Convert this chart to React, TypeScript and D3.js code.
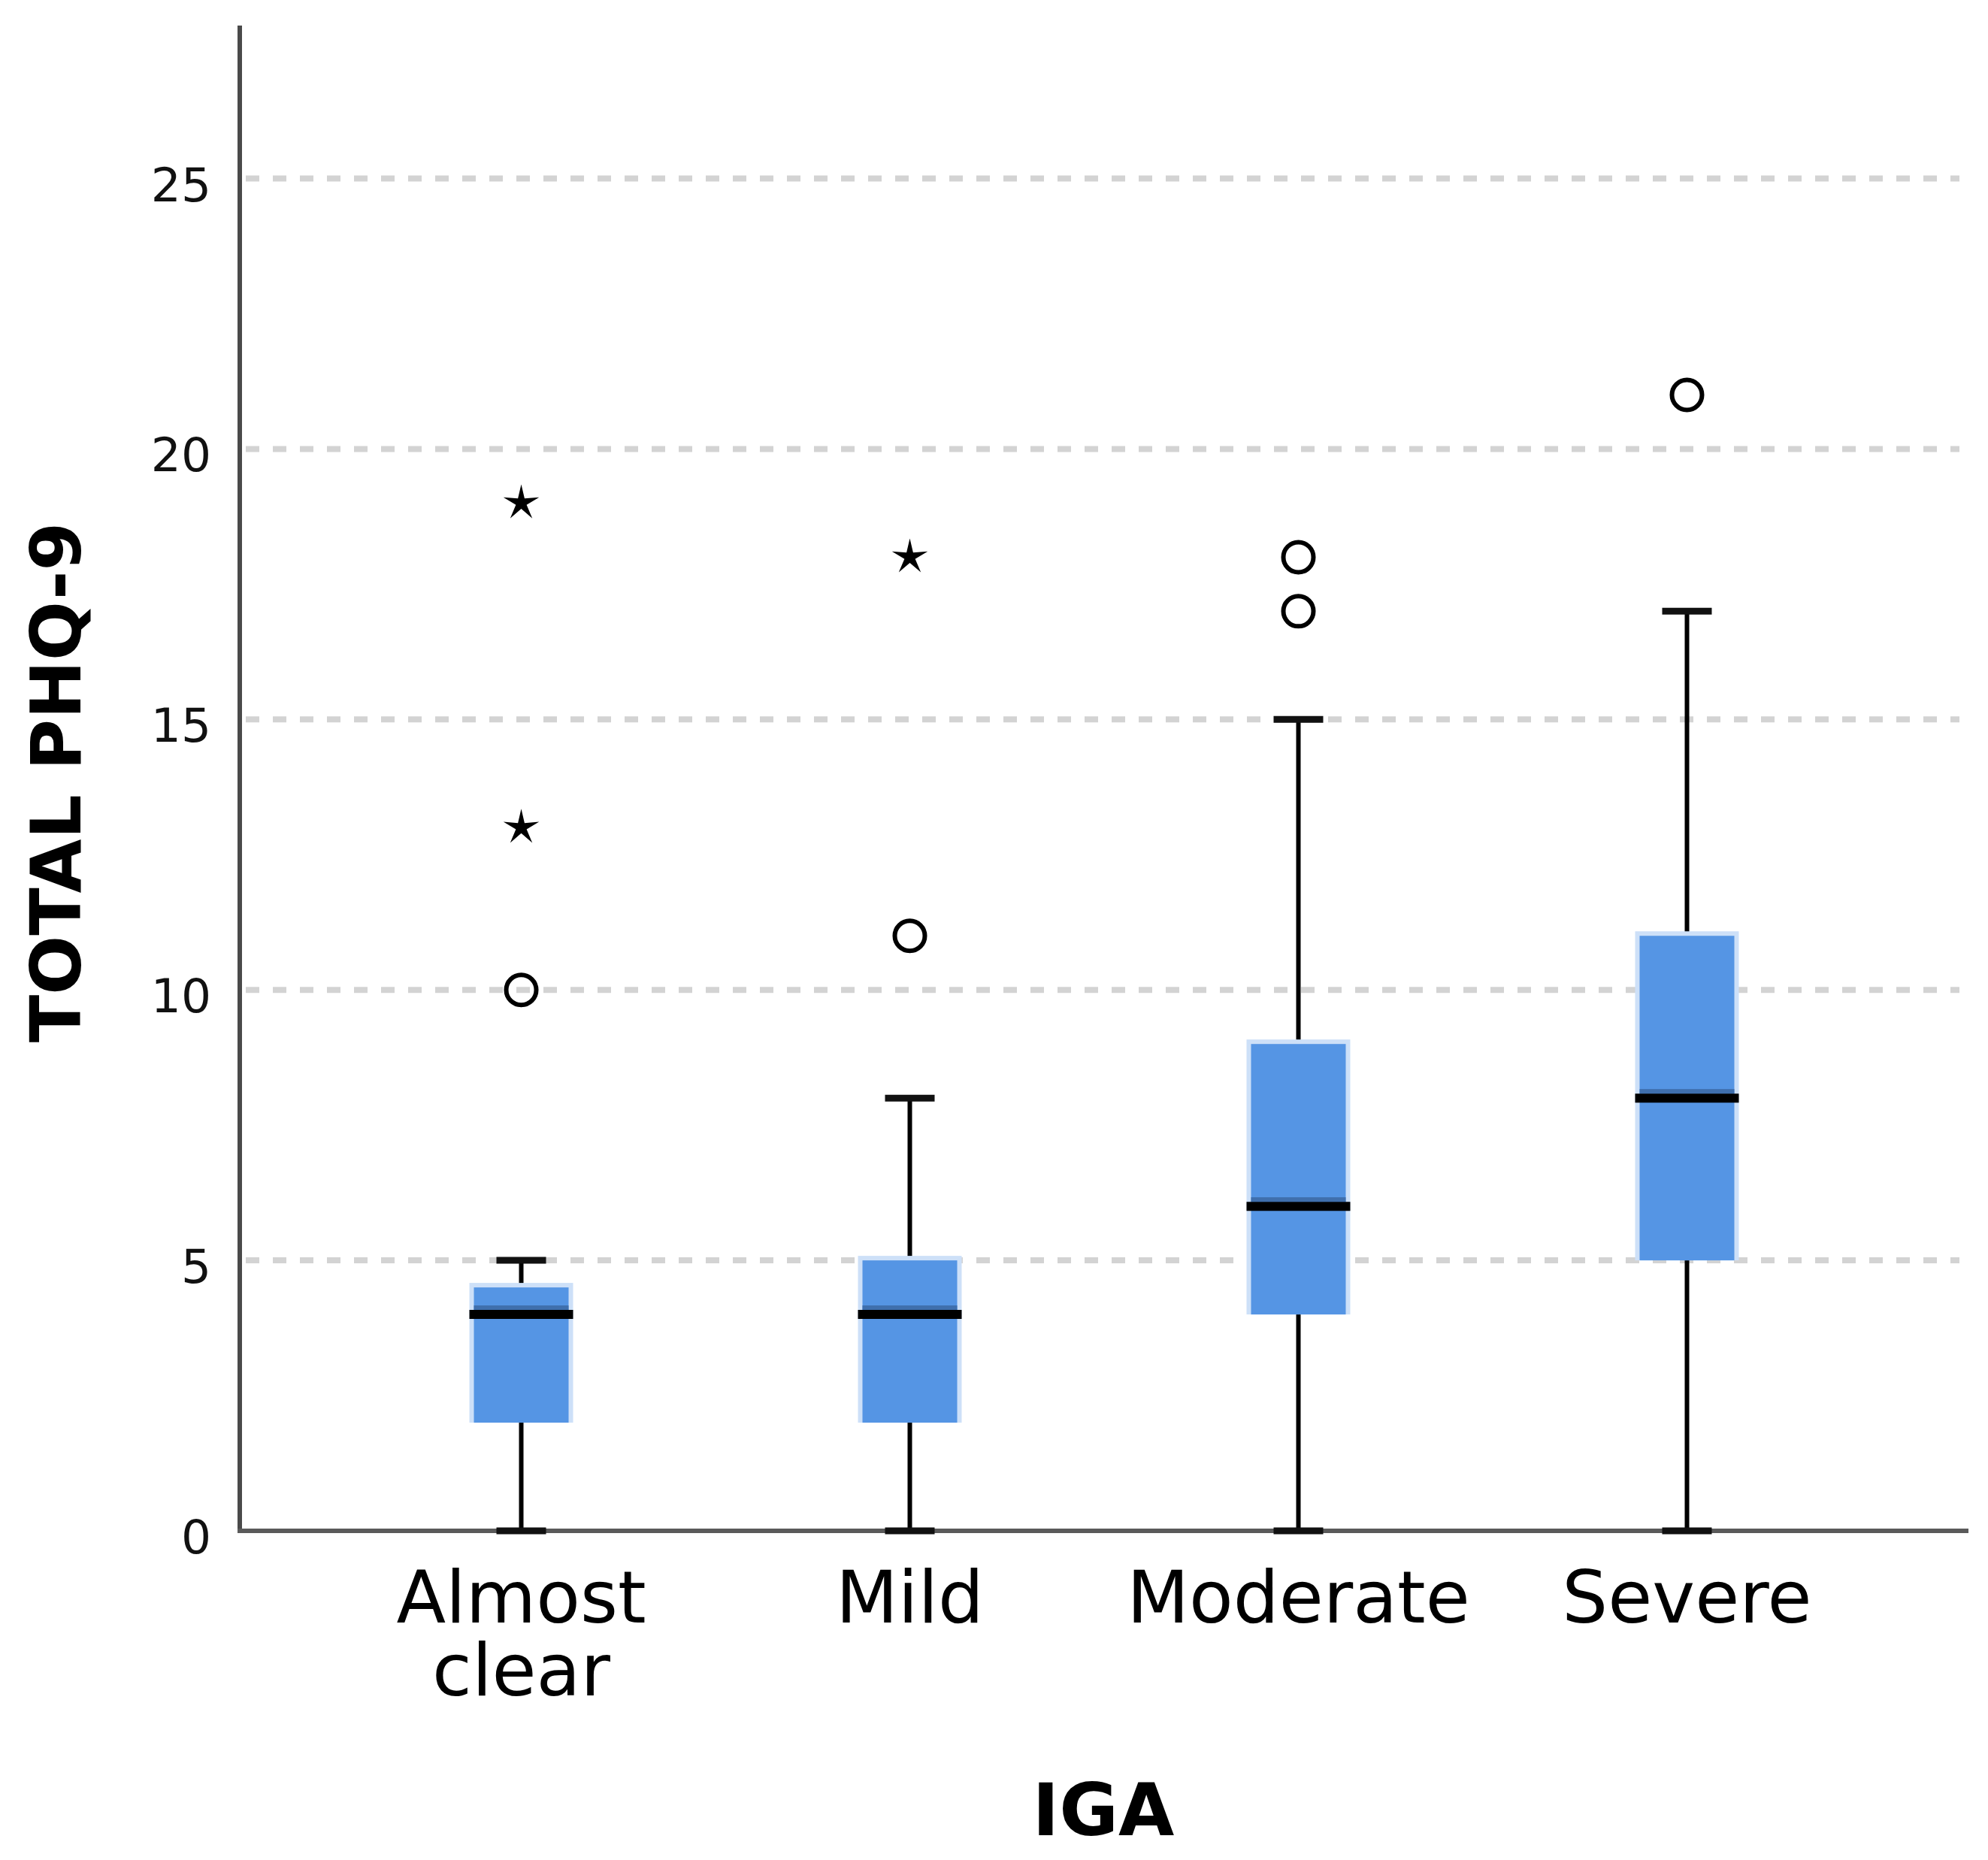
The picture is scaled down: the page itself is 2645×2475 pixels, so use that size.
import React, { useRef, useEffect } from "react";
import * as d3 from "d3";

const CATEGORIES = ["Almost clear", "Mild", "Moderate", "Severe"];
const CATEGORY_LINES = [["Almost", "clear"], ["Mild"], ["Moderate"], ["Severe"]];
const WHISKER_LOW = [0, 0, 0, 0];
const Q1 = [2, 2, 4, 5];
const MEDIAN = [4, 4, 6, 8];
const Q3 = [4.5, 5, 9, 11];
const WHISKER_HIGH = [5, 8, 15, 17];
// circles (mild outliers) and stars (extreme outliers)
const OUTLIERS = [[10], [11], [17, 18], [21]];
const EXTREMES = [[13, 19], [18], [], []];
const Y_TICKS = [0, 5, 10, 15, 20, 25];
const Y_MAX = 27.8;

const W = 2645;
const H = 2475;
const M = { top: 36, left: 319, right: 2619, bottom: 2037 };

const BLUE = "#5595e4";
const FONT = "'DejaVu Sans', sans-serif";

interface BoxRow {
  cat: string;
  lo: number;
  q1: number;
  med: number;
  q3: number;
  hi: number;
}

// five pointed star, outer radius R, thin arms
function starPath(R: number, ratio = 0.3): string {
  const pts: [number, number][] = [];
  for (let i = 0; i < 10; i++) {
    const r = i % 2 === 0 ? R : R * ratio;
    const a = (Math.PI / 5) * i - Math.PI / 2;
    pts.push([Math.cos(a) * r, Math.sin(a) * r]);
  }
  return d3.line()(pts)! + "Z";
}

const App: React.FC = () => {
  const svgRef = useRef<SVGSVGElement>(null);

  useEffect(() => {
    const svgEl = svgRef.current;
    if (!svgEl) return;
    const svg = d3.select(svgEl);
    svg.selectAll("*").remove();

    const rows: BoxRow[] = CATEGORIES.map((cat, i) => ({
      cat, lo: WHISKER_LOW[i], q1: Q1[i], med: MEDIAN[i], q3: Q3[i], hi: WHISKER_HIGH[i],
    }));

    const x = d3.scalePoint<string>()
      .domain(CATEGORIES)
      .range([M.left, M.right])
      .padding(0.7244);

    const y = d3.scaleLinear()
      .domain([0, Y_MAX])
      .range([M.bottom, M.top]);

    const boxHalf = 63;
    const capHalf = 33;

    // Gridlines
    svg.append("g")
      .selectAll("line")
      .data(Y_TICKS.filter(t => t > 0))
      .join("line")
      .attr("x1", M.left + 4).attr("x2", M.right - 12)
      .attr("y1", d => y(d)).attr("y2", d => y(d))
      .attr("stroke", "#d3d3d3")
      .attr("stroke-width", 8)
      .attr("stroke-dasharray", "18 18")
      .attr("stroke-dashoffset", -4);

    // Axis lines (under the marks, so the zero caps sit on top)
    svg.append("line")
      .attr("x1", M.left).attr("x2", M.left)
      .attr("y1", M.top - 2).attr("y2", M.bottom + 3)
      .attr("stroke", "#4a4a4a").attr("stroke-width", 6);
    svg.append("line")
      .attr("x1", M.left - 3).attr("x2", M.right)
      .attr("y1", M.bottom).attr("y2", M.bottom)
      .attr("stroke", "#5a5a5a").attr("stroke-width", 6);

    const g = svg.append("g");

    // Whiskers
    g.selectAll(".whisker")
      .data(rows)
      .join("line")
      .attr("class", "whisker")
      .attr("x1", d => x(d.cat)!).attr("x2", d => x(d.cat)!)
      .attr("y1", d => y(d.lo)).attr("y2", d => y(d.hi))
      .attr("stroke", "#000")
      .attr("stroke-width", 6);

    // Caps
    rows.forEach(d => {
      [d.lo, d.hi].forEach(v => {
        g.append("line")
          .attr("x1", x(d.cat)! - capHalf).attr("x2", x(d.cat)! + capHalf)
          .attr("y1", y(v)).attr("y2", y(v))
          .attr("stroke", "#111")
          .attr("stroke-width", 9);
      });
    });

    // Boxes: light halo then solid fill
    g.selectAll(".halo")
      .data(rows)
      .join("rect")
      .attr("class", "halo")
      .attr("x", d => x(d.cat)! - boxHalf - 6)
      .attr("width", (boxHalf + 6) * 2)
      .attr("y", d => y(d.q3) - 6)
      .attr("height", d => y(d.q1) - y(d.q3) + 6)
      .attr("fill", "#cde0f8");

    g.selectAll(".box")
      .data(rows)
      .join("rect")
      .attr("class", "box")
      .attr("x", d => x(d.cat)! - boxHalf)
      .attr("width", boxHalf * 2)
      .attr("y", d => y(d.q3))
      .attr("height", d => y(d.q1) - y(d.q3))
      .attr("fill", BLUE);

    // soft shade just above the median
    g.selectAll(".shade")
      .data(rows)
      .join("rect")
      .attr("class", "shade")
      .attr("x", d => x(d.cat)! - boxHalf)
      .attr("width", boxHalf * 2)
      .attr("y", d => y(d.med) - 12)
      .attr("height", 6)
      .attr("fill", "#3f6fad");

    g.selectAll(".median")
      .data(rows)
      .join("line")
      .attr("class", "median")
      .attr("x1", d => x(d.cat)! - boxHalf - 6).attr("x2", d => x(d.cat)! + boxHalf + 6)
      .attr("y1", d => y(d.med)).attr("y2", d => y(d.med))
      .attr("stroke", "#000")
      .attr("stroke-width", 12);

    // Outlier circles
    const circles = CATEGORIES.flatMap((cat, i) => OUTLIERS[i].map(v => ({ cat, v })));
    g.selectAll(".out")
      .data(circles)
      .join("circle")
      .attr("class", "out")
      .attr("cx", d => x(d.cat)!)
      .attr("cy", d => y(d.v))
      .attr("r", 20)
      .attr("fill", "none")
      .attr("stroke", "#000")
      .attr("stroke-width", 6);

    // Extreme stars
    const stars = CATEGORIES.flatMap((cat, i) => EXTREMES[i].map(v => ({ cat, v })));
    const sp = starPath(25);
    g.selectAll(".ext")
      .data(stars)
      .join("path")
      .attr("class", "ext")
      .attr("d", sp)
      .attr("transform", d => `translate(${x(d.cat)},${y(d.v)})`)
      .attr("fill", "#000");

    // Y tick labels
    svg.append("g")
      .selectAll("text")
      .data(Y_TICKS)
      .join("text")
      .attr("x", 281)
      .attr("y", d => y(d))
      .attr("dy", 30)
      .attr("text-anchor", "end")
      .attr("font-family", FONT)
      .attr("font-size", 63)
      .attr("fill", "#111")
      .text(d => String(d));

    // Category labels
    const cl = svg.append("g")
      .selectAll("text")
      .data(CATEGORIES)
      .join("text")
      .attr("x", d => x(d)!)
      .attr("y", 2159)
      .attr("text-anchor", "middle")
      .attr("font-family", FONT)
      .attr("font-size", 96)
      .attr("fill", "#000");
    cl.selectAll("tspan")
      .data((_, i) => CATEGORY_LINES[i])
      .join("tspan")
      .attr("x", function () {
        return (this.parentNode as SVGTextElement).getAttribute("x");
      })
      .attr("dy", (_, j) => (j === 0 ? 0 : 97))
      .text(d => d);

    // Axis titles
    svg.append("text")
      .attr("x", 1468)
      .attr("y", 2442)
      .attr("text-anchor", "middle")
      .attr("font-family", FONT)
      .attr("font-weight", "bold")
      .attr("font-size", 96)
      .attr("fill", "#000")
      .text("IGA");

    svg.append("text")
      .attr("transform", "translate(107,1041) rotate(-90)")
      .attr("text-anchor", "middle")
      .attr("font-family", FONT)
      .attr("font-weight", "bold")
      .attr("font-size", 93)
      .attr("fill", "#000")
      .text("TOTAL PHQ-9");
  }, []);

  return (
    <svg
      ref={svgRef}
      width={W}
      height={H}
      style={{ position: "absolute", left: 0, top: 0, background: "#fff", display: "block" }}
    />
  );
};

export default App;
